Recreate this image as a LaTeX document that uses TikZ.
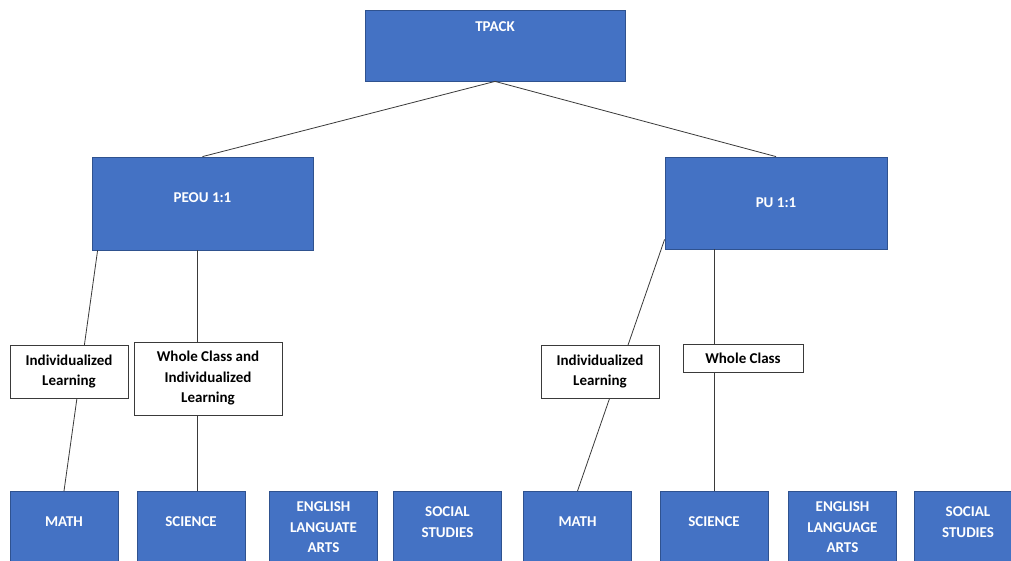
\documentclass[tikz,border=0pt]{standalone}
\usepackage{fontspec}
\setmainfont{Carlito}
\usepackage{xcolor}
\definecolor{tblue}{HTML}{4472C4}
\definecolor{tblueedge}{HTML}{2F528F}
\definecolor{tdarkgray}{HTML}{3a3a3a}

\begin{document}
\begin{tikzpicture}[x=1pt, y=-1pt,
		bluebox/.style={draw=tblueedge, line width=0.8pt, fill=tblue, text=white, inner sep=0pt, align=center, font=\bfseries\fontsize{15}{20.5}\selectfont},
		subjbox/.style={bluebox, anchor=north, minimum width=108, minimum height=72},
		raised/.style={text depth=11pt},
		modebox/.style={draw=tdarkgray, line width=0.8pt, fill=white, text=black, inner sep=0pt, align=center, font=\bfseries\fontsize{15}{20.5}\selectfont},
		link/.style={color=tdarkgray, line width=0.8pt}]
		\clip (0,0) rectangle (1011,561);
		\fill[white] (0,0) rectangle (1011,561);
		% top level
		\node[bluebox, minimum width=260, minimum height=71, text depth=37pt] (tpack) at (495,45.5) {TPACK};
		\node[bluebox, raised, minimum width=221, minimum height=93] (peou) at (202.5,203.5) {PEOU 1:1};
		\node[bluebox, minimum width=222, minimum height=92] (pu) at (776,203) {PU 1:1};
		% subjects
		\node[subjbox, raised] (math1) at (64,491) {MATH};
		\node[subjbox, raised] (sci1) at (191,491) {SCIENCE};
		\node[subjbox] (eng1) at (323.5,491) {ENGLISH\\LANGUATE\\ARTS};
		\node[subjbox, raised] (soc1) at (447.5,491) {SOCIAL\\STUDIES};
		\node[subjbox, raised] (math2) at (577.5,491) {MATH};
		\node[subjbox, raised] (sci2) at (714,491) {SCIENCE};
		\node[subjbox] (eng2) at (842.5,491) {ENGLISH\\LANGUAGE\\ARTS};
		\node[subjbox, raised] (soc2) at (968,491) {SOCIAL\\STUDIES};
		% connectors
		\draw[link] (tpack.south) -- (peou.north);
		\draw[link] (tpack.south) -- (pu.north);
		\draw[link] ([xshift=6pt]peou.south west) -- (math1.north);
		\draw[link] ([xshift=-5pt]peou.south) -- ([xshift=-5pt]peou.south |- sci1.north);
		\draw[link] ([yshift=10pt]pu.south west) -- (math2.north);
		\draw[link] (sci2.north |- pu.south) -- (sci2.north);
		% learning modes
		\node[modebox, minimum width=118, minimum height=53] (ind1) at (69,371.5) {Individualized\\Learning};
		\node[modebox, minimum width=148, minimum height=73] (wci1) at (208,378.5) {Whole Class and\\Individualized\\Learning};
		\node[modebox, minimum width=118, minimum height=53] (ind2) at (600,371.5) {Individualized\\Learning};
		\node[modebox, minimum width=120, minimum height=28] (wc2) at (743,358) {Whole Class};
	\end{tikzpicture}
\end{document}
